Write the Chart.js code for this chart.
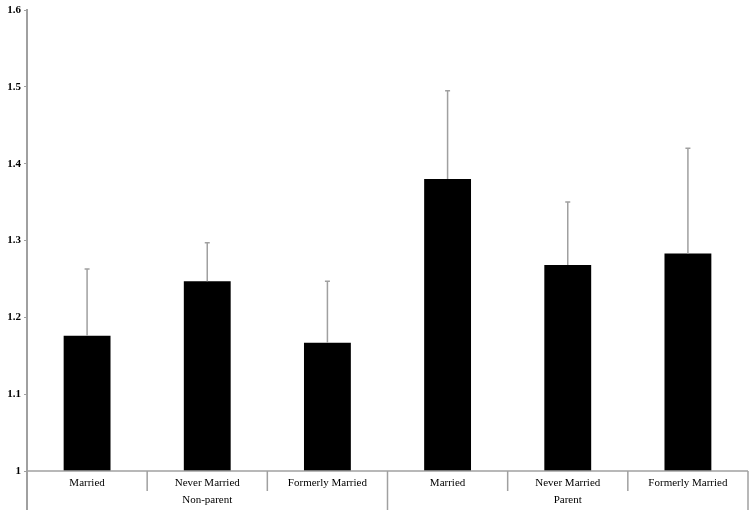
<!DOCTYPE html>
<html><head><meta charset="utf-8">
<script src="https://cdn.jsdelivr.net/npm/chart.js@4.4.1/dist/chart.umd.min.js"></script>
<style>html,body{margin:0;padding:0;background:#fff}#wrap{width:750px;height:516px}</style>
</head><body><div id="wrap"><canvas id="c" width="750" height="516"></canvas></div>
<script>
const categories = ["Married", "Never Married", "Formerly Married", "Married", "Never Married", "Formerly Married"];
const groups = ["Non-parent", "Parent"];
const groupSize = 3;
const means = [1.176, 1.247, 1.167, 1.380, 1.268, 1.283];
const errorTops = [1.263, 1.297, 1.247, 1.495, 1.350, 1.420];
const yTicks = [1, 1.1, 1.2, 1.3, 1.4, 1.5, 1.6];

const GRAY = '#a0a0a0';
const FONT = '"Liberation Serif", "DejaVu Serif", serif';

const overlay = {
  id: 'overlay',
  afterDatasetsDraw(chart) {
    const ctx = chart.ctx, x = chart.scales.x, y = chart.scales.y, ca = chart.chartArea;
    ctx.save();
    // error bars
    ctx.strokeStyle = GRAY; ctx.lineWidth = 1.5;
    means.forEach((m, i) => {
      const px = x.getPixelForValue(i);
      const y0 = y.getPixelForValue(m), y1 = y.getPixelForValue(errorTops[i]);
      ctx.beginPath(); ctx.moveTo(px, y0); ctx.lineTo(px, y1);
      ctx.moveTo(px - 2.5, y1); ctx.lineTo(px + 2.5, y1); ctx.stroke();
    });
    // x axis line
    const base = y.getPixelForValue(1);
    ctx.lineWidth = 1.5;
    ctx.beginPath(); ctx.moveTo(ca.left, base); ctx.lineTo(ca.right, base); ctx.stroke();
    const half = (x.getPixelForValue(1) - x.getPixelForValue(0)) / 2;
    // category dividers and labels
    ctx.fillStyle = '#000';
    ctx.textAlign = 'center'; ctx.textBaseline = 'middle';
    ctx.font = '11px ' + FONT;
    categories.forEach((c, i) => {
      const px = x.getPixelForValue(i);
      const right = px + half;
      const isGroupEnd = (i + 1) % groupSize === 0;
      ctx.beginPath(); ctx.moveTo(right, base); ctx.lineTo(right, base + (isGroupEnd ? 39 : 20)); ctx.stroke();
      ctx.fillText(c, px, base + 12);
    });
    // left axis extension
    ctx.lineWidth = 2;
    ctx.beginPath(); ctx.moveTo(ca.left, base); ctx.lineTo(ca.left, base + 39); ctx.stroke();
    // group labels
    groups.forEach((g, gi) => {
      const a = x.getPixelForValue(gi * groupSize) - half;
      const b = x.getPixelForValue(gi * groupSize + groupSize - 1) + half;
      ctx.fillText(g, (a + b) / 2, base + 29);
    });
    ctx.restore();
  }
};

new Chart(document.getElementById('c'), {
  type: 'bar',
  data: {
    labels: categories,
    datasets: [{ data: means, backgroundColor: '#000', borderWidth: 0,
      barPercentage: 0.39, categoryPercentage: 1 }]
  },
  options: {
    responsive: false, animation: false,
    layout: { padding: { top: 10, right: 2, bottom: 45, left: 0 } },
    plugins: { legend: { display: false }, tooltip: { enabled: false } },
    scales: {
      x: { display: false, offset: true },
      y: {
        min: 1, max: 1.6,
        afterFit(s) { s.width = 27; },
        afterBuildTicks(s) { s.ticks = yTicks.map(v => ({ value: v })); },
        ticks: { color: '#000', padding: 3, font: { family: FONT, size: 11, weight: 'bold' },
          callback: v => String(v) },
        grid: { display: true, drawOnChartArea: false, tickLength: 3, color: GRAY },
        border: { display: true, color: GRAY, width: 2 }
      }
    }
  },
  plugins: [overlay]
});
</script></body></html>
